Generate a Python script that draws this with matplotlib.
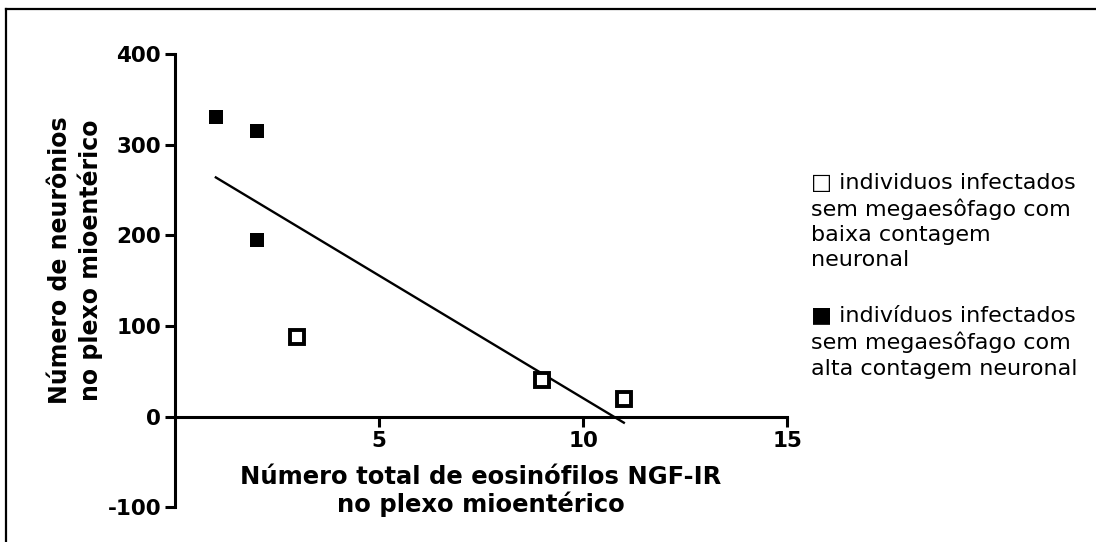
import numpy as np
import matplotlib
matplotlib.use('Agg')
import matplotlib.pyplot as plt
from matplotlib.lines import Line2D

# baixa contagem neuronal (open squares)
low_x = [3, 9, 11]
low_y = [88, 40, 20]
# alta contagem neuronal (filled squares)
high_x = [1, 2, 2]
high_y = [330, 315, 195]

x_ticks = [5, 10, 15]
y_ticks = [-100, 0, 100, 200, 300, 400]

legend_low = '\u25a1 individuos infectados\nsem megaesôfago com\nbaixa contagem\nneuronal'
legend_high = '\u25a0 indivíduos infectados\nsem megaesôfago com\nalta contagem neuronal'

# the reference text is wide, DejaVu fits its proportions better than Arial
plt.rcParams['font.family'] = ['DejaVu Sans']
plt.rcParams['axes.unicode_minus'] = False

fig = plt.figure(figsize=(10.96, 5.42), dpi=100)
ax = fig.add_axes([0.1597, 0.064, 0.5584, 0.8364])

# regression line over all points
all_x = np.array(low_x + high_x)
all_y = np.array(low_y + high_y)
slope, inter = np.polyfit(all_x, all_y, 1)
xs = np.array([all_x.min(), all_x.max()])
ax.plot(xs, slope * xs + inter, color='black', lw=1.7)

ax.plot(high_x, high_y, 's', color='black', ms=10.5, mew=0)
ax.plot(low_x, low_y, 's', mfc='white', mec='black', ms=10, mew=2.8)

ax.set_xlim(0, 15)
ax.set_ylim(-100, 400)
ax.set_xticks(x_ticks)
ax.set_yticks(y_ticks)

for s in ['top', 'right']:
    ax.spines[s].set_visible(False)
ax.spines['bottom'].set_position(('data', 0))
ax.spines['left'].set_linewidth(2.2)
ax.spines['bottom'].set_linewidth(2.2)
ax.tick_params(width=2.2, length=7, direction='out', labelsize=15.5, pad=3)
for lab in ax.get_xticklabels() + ax.get_yticklabels():
    lab.set_fontweight('bold')

ax.text(7.5, -82, 'Número total de eosinófilos NGF-IR\nno plexo mioentérico',
        ha='center', va='center', fontsize=17.5, fontweight='bold', linespacing=1.12)
fig.text(0.069, 0.52, 'Número de neurônios\nno plexo mioentérico', rotation=90,
         ha='center', va='center', fontsize=17, fontweight='bold', linespacing=1.25)

fig.text(0.74, 0.681, legend_low, ha='left', va='top', fontsize=16, linespacing=1.32)
fig.text(0.74, 0.437, legend_high, ha='left', va='top', fontsize=16, linespacing=1.36)

# border frame (left and top edges visible)
fig.add_artist(Line2D([6 / 1096, 6 / 1096], [0, 1 - 9 / 542], color='black', lw=1.6))
fig.add_artist(Line2D([6 / 1096, 1], [1 - 9 / 542, 1 - 9 / 542], color='black', lw=1.6))

fig.savefig('out.png', dpi=100)
